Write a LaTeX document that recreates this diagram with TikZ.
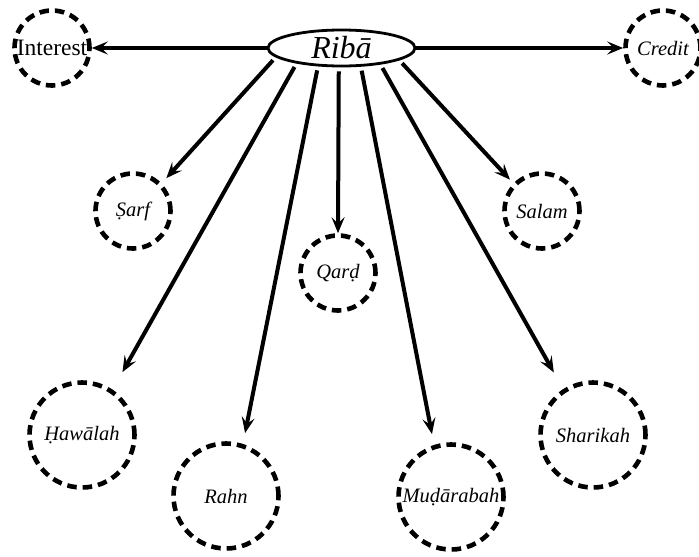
\documentclass[tikz,border=0pt]{standalone}
\usepackage{fontspec}
\setmainfont{Liberation Serif}
\usetikzlibrary{arrows.meta,shapes.geometric}
\begin{document}
\begin{tikzpicture}[x=1pt,y=-1pt,
  lbl/.style={font=\fontsize{20.5}{24}\selectfont\itshape},
  smallc/.style={circle,draw,line width=4.6pt,dash pattern=on 9.5pt off 6pt,minimum size=75pt,inner sep=0pt,lbl},
  bigc/.style={smallc,minimum size=105pt},
  arr/.style={line width=4pt,shorten <=4pt,-{Stealth[length=16pt,width=13pt,inset=6.5pt]}}]
\useasboundingbox (0,0) rectangle (699,557);
\node[ellipse,draw,line width=2.8pt,minimum width=147pt,minimum height=36pt,inner sep=0pt,font=\fontsize{32}{34}\selectfont\itshape] (riba) at (341.5,48) {Ribā};
\node[smallc,font=\fontsize{23.5}{26}\selectfont] (interest) at (52,48) {Interest};
\node[smallc] (credit) at (663,48) {Credit};
\node[smallc] (sarf) at (133,211) {Ṣarf};
\node[smallc] (salam) at (542,211) {Salam};
\node[smallc] (qard) at (338,273) {Qarḍ};
\node[bigc] (hawalah) at (82,435) {Ḥawālah};
\node[bigc] (rahn) at (226,496) {Rahn};
\node[bigc] (mudarabah) at (451,497) {Muḍārabah};
\node[bigc] (sharikah) at (593,435) {Sharikah};
\draw[arr,shorten <=0pt] (riba.west) -- (interest.east);
\draw[arr,shorten <=0pt] (riba.east) -- (credit.west);
\draw[arr,shorten >=7pt] (riba.188.6) -- (sarf.44);
\draw[arr,shorten >=20pt] (riba.199.2) -- (hawalah.56);
\draw[arr,shorten >=11pt] (riba.218.2) -- (rahn.72);
\draw[arr] (riba.262) -- (qard.north);
\draw[arr,shorten >=11pt] (riba.316) -- (mudarabah.108);
\draw[arr,shorten >=19pt] (riba.337.5) -- (sharikah.123.5);
\draw[arr,shorten >=5pt] (riba.348.9) -- (salam.136);
\end{tikzpicture}
\end{document}
